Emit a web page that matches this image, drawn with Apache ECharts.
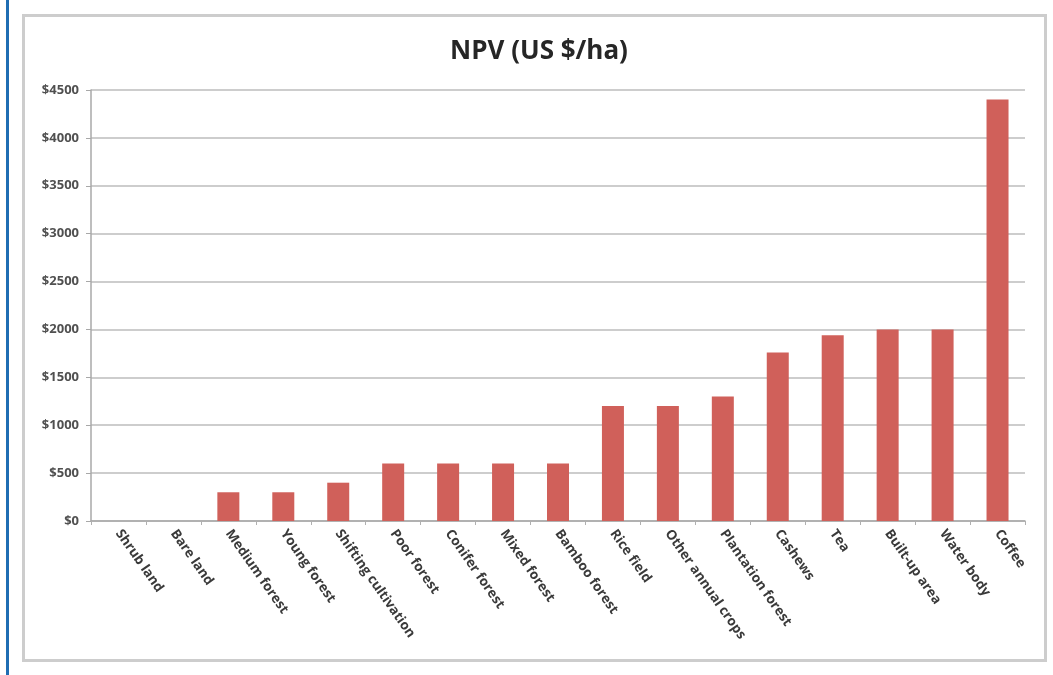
<!DOCTYPE html>
<html>
<head>
<meta charset="utf-8">
<title>NPV (US $/ha)</title>
<script src="https://cdn.jsdelivr.net/npm/echarts@6/dist/echarts.min.js"></script>
<style>
  html, body { margin: 0; padding: 0; background: #ffffff; }
  #chart { width: 1053px; height: 675px; }
</style>
</head>
<body>
<div id="chart"></div>
<script>
// Land-use categories, ordered by net present value
const categories = [
  'Shrub land', 'Bare land', 'Medium forest', 'Young forest', 'Shifting cultivation',
  'Poor forest', 'Conifer forest', 'Mixed forest', 'Bamboo forest', 'Rice field',
  'Other annual crops', 'Plantation forest', 'Cashews', 'Tea', 'Built-up area',
  'Water body', 'Coffee'
];
// NPV in US $ per hectare
const npvValues = [0, 0, 300, 300, 400, 600, 600, 600, 600, 1200, 1200, 1300, 1760, 1940, 2000, 2000, 4400];
// Value axis range
const yMin = 0;
const yMax = 4500;
const yStep = 500;

const chart = echarts.init(document.getElementById('chart'));
chart.setOption({
  animation: false,
  backgroundColor: '#ffffff',
  title: {
    text: 'NPV (US $/ha)',
    left: 534,
    textAlign: 'center',
    top: 34,
    textStyle: { fontFamily: 'Open Sans', fontWeight: 'bold', fontSize: 26, color: '#262626' }
  },
  graphic: [
    { type: 'rect', shape: { x: 6, y: 0, width: 3, height: 675 }, style: { fill: '#1f6db3' }, z: 10 },
    { type: 'rect', shape: { x: 23.5, y: 15.5, width: 1022, height: 645 },
      style: { fill: 'none', stroke: '#cdcdcd', lineWidth: 3 }, z: 10 }
  ],
  grid: { left: 91, right: 28, top: 90, bottom: 154, containLabel: false },
  xAxis: {
    type: 'category',
    data: categories,
    axisLine: { lineStyle: { color: '#a8a8a8', width: 1.5 } },
    axisTick: { show: true, alignWithLabel: false, length: 4, lineStyle: { color: '#b0b0b0' } },
    axisLabel: {
      interval: 0,
      rotate: -55,
      margin: 10,
      fontFamily: 'Open Sans',
      fontSize: 13.5,
      fontWeight: 'bold',
      color: '#3a3a3a'
    }
  },
  yAxis: {
    type: 'value',
    min: yMin,
    max: yMax,
    interval: yStep,
    axisLine: { show: true, lineStyle: { color: '#a8a8a8', width: 1.5 } },
    axisTick: { show: true, length: 5, lineStyle: { color: '#a8a8a8' } },
    splitLine: { lineStyle: { color: '#bcbcbc', width: 1.5 } },
    axisLabel: {
      formatter: v => '$' + v,
      margin: 12,
      fontFamily: 'Open Sans',
      fontSize: 13,
      fontWeight: 'bold',
      color: '#505050'
    }
  },
  series: [{
    type: 'bar',
    data: npvValues,
    barWidth: 22,
    itemStyle: { color: '#d0605a' }
  }]
});
</script>
</body>
</html>
